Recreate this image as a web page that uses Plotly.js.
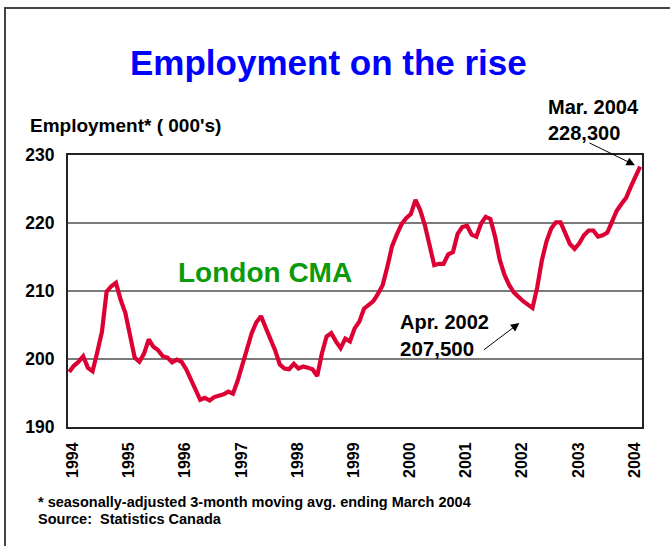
<!DOCTYPE html>
<html>
<head>
<meta charset="utf-8">
<script src="https://cdn.plot.ly/plotly-3.0.1.min.js"></script>
<style>
  html, body { margin: 0; padding: 0; background: #ffffff; }
  #wrap { position: relative; width: 670px; height: 546px; overflow: hidden; }
  #chart { position: absolute; left: 0; top: 0; width: 670px; height: 546px; }
  #frame { position: absolute; left: 4px; top: 7px; width: 700px; height: 600px;
           border-left: 2px solid #444; border-top: 2px solid #444; pointer-events: none; }
</style>
</head>
<body>
<div id="wrap">
  <div id="chart"></div>
  <div id="frame"></div>
</div>
<script>
// Monthly employment (000's), seasonally-adjusted 3-month moving average, Jan 1994 .. Mar 2004
const startYear = 1994;
const employment = [
  198.1, 199.0, 199.6, 200.4, 198.7, 198.2, 201.0, 204.0, 209.9, 210.7, 211.2, 208.7,
  206.8, 203.8, 200.2, 199.6, 200.8, 202.9, 201.8, 201.3, 200.4, 200.2, 199.5, 199.9,
  199.6, 198.5, 197.0, 195.3, 194.0, 194.3, 193.9, 194.4, 194.6, 194.8, 195.2, 194.9,
  196.8, 199.2, 201.8, 203.8, 205.4, 206.3, 204.6, 203.1, 201.3, 199.2, 198.6, 198.5,
  199.3, 198.6, 198.9, 198.7, 198.5, 197.5, 200.8, 203.3, 203.8, 202.6, 201.6, 203.0,
  202.6, 204.5, 205.5, 207.4, 208.0, 208.5, 209.6, 210.9, 213.6, 216.6, 218.3, 219.8,
  220.7, 221.3, 223.4, 221.9, 219.7, 216.5, 213.8, 214.0, 214.0, 215.4, 215.7, 218.4,
  219.4, 219.6, 218.3, 218.0, 219.9, 220.9, 220.6, 218.0, 214.6, 212.4, 210.9, 209.8,
  209.1, 208.5, 208.0, 207.5, 210.5, 214.5, 217.3, 219.2, 220.1, 220.1, 218.5, 216.9,
  216.2, 217.0, 218.2, 218.9, 218.9, 218.0, 218.2, 218.6, 220.2, 221.8, 222.8, 223.7,
  225.3, 226.9, 228.3
];
const yearLabels = ["1994","1995","1996","1997","1998","1999","2000","2001","2002","2003","2004"];
const yTicks = [190, 200, 210, 220, 230];

const monthIndex = employment.map((v, i) => i);
const labelShift = 0.8; // visual centring of rotated year labels
const yearTickVals = yearLabels.map((y, i) => i * 12 + labelShift);

// layout geometry (pixels)
const W = 670, H = 546;
const M = { l: 68, r: 28, t: 155, b: 119 };
const PW = W - M.l - M.r, PH = H - M.t - M.b;
const px = x => (x - M.l) / PW;
const py = y => (H - M.b - y) / PH;

const FONT = '"Liberation Sans", Arial, Helvetica, sans-serif';

function txt(text, x, y, size, color, xanchor) {
  return {
    text: '<b>' + text + '</b>', xref: 'paper', yref: 'paper',
    x: px(x), y: py(y), xanchor: xanchor || 'left', yanchor: 'middle',
    showarrow: false, font: { family: FONT, size: size, color: color || '#000' }
  };
}

const lastIdx = employment.length - 1;
const aprIdx = 99;

const annotations = [
  txt('Employment on the rise', 328, 62, 35, '#0000ff', 'center'),
  txt("Employment* ( 000's)", 28, 126, 19),
  txt('Mar. 2004', 546, 107, 20),
  txt('228,300', 546, 133, 20),
  txt('London CMA', 176, 272, 28, '#0a9a0a'),
  txt('Apr. 2002', 398, 322, 20),
  txt('207,500', 398, 348, 20.5),
  txt('* seasonally-adjusted 3-month moving avg. ending March 2004', 36, 502, 14.5),
  txt('Source:  Statistics Canada', 36, 519, 14.5),
  {
    x: lastIdx - 1.1, y: employment[lastIdx] + 0.2, xref: 'x', yref: 'y',
    text: '', showarrow: true, ax: -47, ay: -23, axref: 'pixel', ayref: 'pixel',
    arrowhead: 2, arrowsize: 1.7, arrowwidth: 1, arrowcolor: '#000', standoff: 0
  },
  {
    x: aprIdx - 2.8, y: employment[aprIdx] - 2.2, xref: 'x', yref: 'y',
    text: '', showarrow: true, ax: -37, ay: 28, axref: 'pixel', ayref: 'pixel',
    arrowhead: 2, arrowsize: 1.7, arrowwidth: 1, arrowcolor: '#000', standoff: 0
  }
];

const trace = {
  x: monthIndex, y: employment, type: 'scatter', mode: 'lines',
  line: { color: '#dc0035', width: 4.2 }, hoverinfo: 'skip'
};

const layout = {
  width: W, height: H,
  margin: M,
  paper_bgcolor: '#ffffff', plot_bgcolor: '#ffffff',
  showlegend: false,
  font: { family: FONT, color: '#000' },
  xaxis: {
    range: [-0.25, 122.4], tickmode: 'array', tickvals: yearTickVals, ticktext: yearLabels,
    tickangle: -90, showgrid: false, zeroline: false, ticks: '', ticklabelstandoff: 7,
    tickfont: { family: FONT, size: 16, color: '#000', weight: 'bold' },
    showline: true, mirror: true, linecolor: '#222', linewidth: 2, fixedrange: true
  },
  yaxis: {
    range: [190, 230], tickmode: 'array', tickvals: yTicks, ticktext: yTicks.map(String),
    showgrid: true, gridcolor: '#7a7a7a', gridwidth: 1.5, zeroline: false, ticks: '',
    ticklabelstandoff: 8,
    tickfont: { family: FONT, size: 17.5, color: '#000', weight: 'bold' },
    showline: true, mirror: true, linecolor: '#222', linewidth: 2, fixedrange: true
  },
  annotations: annotations
};

Plotly.newPlot('chart', [trace], layout, { staticPlot: true, displayModeBar: false });
</script>
</body>
</html>
